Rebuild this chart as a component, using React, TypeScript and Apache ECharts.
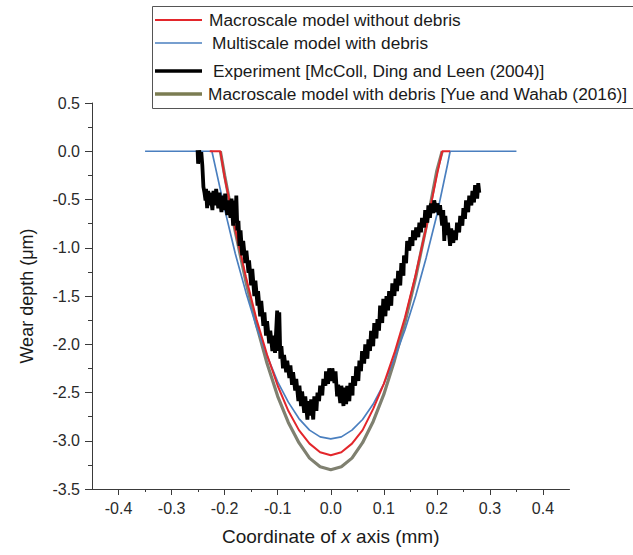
import React, { useEffect, useRef } from "react";
import * as echarts from "echarts";

const FONT = "'Liberation Sans', Arial, Helvetica, sans-serif";

const xMajorTicks = [-0.4, -0.3, -0.2, -0.1, 0, 0.1, 0.2, 0.3, 0.4];
const xMinorTicks = [-0.35, -0.25, -0.15, -0.05, 0.05, 0.15, 0.25, 0.35];

const legendNames = [
  "Macroscale model without debris",
  "Multiscale model with debris",
  "Experiment [McColl, Ding and Leen (2004)]",
  "Macroscale model with debris [Yue and Wahab (2016)]",
];

// Macroscale model without debris (red)
const redX = [-0.228, -0.208, -0.2, -0.18, -0.16, -0.14, -0.12, -0.1, -0.08, -0.06, -0.04, -0.02, 0, 0.02, 0.04, 0.06, 0.08, 0.1, 0.12, 0.14, 0.16, 0.18, 0.2, 0.21, 0.225];
const redY = [0, 0, -0.27, -0.81, -1.3, -1.74, -2.11, -2.43, -2.69, -2.89, -3.03, -3.12, -3.15, -3.12, -3.03, -2.89, -2.67, -2.41, -2.09, -1.72, -1.28, -0.79, -0.25, 0, 0];

// Multiscale model with debris (blue)
const blueX = [-0.35, -0.224, -0.22, -0.2, -0.18, -0.16, -0.14, -0.12, -0.1, -0.08, -0.06, -0.04, -0.02, 0, 0.02, 0.04, 0.06, 0.08, 0.1, 0.12, 0.14, 0.16, 0.18, 0.2, 0.22, 0.225, 0.35];
const blueY = [0, 0, -0.1, -0.6, -1.06, -1.46, -1.82, -2.12, -2.39, -2.6, -2.77, -2.89, -2.96, -2.98, -2.96, -2.89, -2.78, -2.62, -2.41, -2.15, -1.85, -1.5, -1.1, -0.66, -0.14, 0, 0];

// Macroscale model with debris [Yue and Wahab (2016)] (olive)
const greenX = [-0.208, -0.2, -0.18, -0.16, -0.14, -0.12, -0.1, -0.08, -0.06, -0.04, -0.02, 0, 0.02, 0.04, 0.06, 0.08, 0.1, 0.12, 0.14, 0.16, 0.18, 0.2, 0.21];
const greenY = [0, -0.25, -0.83, -1.35, -1.8, -2.2, -2.54, -2.81, -3.02, -3.18, -3.27, -3.3, -3.27, -3.18, -3.02, -2.8, -2.52, -2.17, -1.77, -1.31, -0.78, -0.2, 0];

// Experiment [McColl, Ding and Leen (2004)] (black, noisy profile)
const expX = [
  -0.251, -0.25, -0.248, -0.246, -0.244, -0.242, -0.24, -0.238, -0.236, -0.235, -0.233, -0.231, -0.229, -0.227,
  -0.223, -0.221, -0.218, -0.216, -0.212, -0.21, -0.206, -0.204, -0.201, -0.199, -0.195, -0.193, -0.189, -0.187,
  -0.184, -0.182, -0.18, -0.178, -0.176, -0.174, -0.172, -0.17, -0.167, -0.165, -0.161, -0.159, -0.155, -0.154,
  -0.15, -0.148, -0.144, -0.142, -0.138, -0.137, -0.133, -0.131, -0.127, -0.125, -0.122, -0.12, -0.116, -0.114,
  -0.11, -0.108, -0.105, -0.101, -0.099, -0.097, -0.095, -0.093, -0.09, -0.088, -0.084, -0.082, -0.078, -0.076,
  -0.073, -0.071, -0.067, -0.065, -0.061, -0.059, -0.056, -0.054, -0.05, -0.048, -0.044, -0.042, -0.039, -0.037,
  -0.033, -0.031, -0.027, -0.025, -0.022, -0.02, -0.016, -0.014, -0.01, -0.009, -0.005, -0.003, 0.001, 0.003,
  0.007, 0.009, 0.012, 0.014, 0.018, 0.02, 0.024, 0.025, 0.029, 0.031, 0.035, 0.037, 0.041, 0.042, 0.046, 0.048,
  0.052, 0.054, 0.057, 0.059, 0.063, 0.065, 0.069, 0.071, 0.074, 0.076, 0.08, 0.082, 0.086, 0.088, 0.091, 0.093,
  0.097, 0.099, 0.103, 0.105, 0.108, 0.11, 0.114, 0.116, 0.12, 0.122, 0.125, 0.127, 0.131, 0.133, 0.137, 0.138,
  0.142, 0.144, 0.148, 0.15, 0.154, 0.155, 0.159, 0.161, 0.165, 0.167, 0.17, 0.172, 0.176, 0.178, 0.182, 0.184,
  0.187, 0.189, 0.193, 0.195, 0.199, 0.201, 0.204, 0.206, 0.21, 0.212, 0.214, 0.216, 0.219, 0.221, 0.225, 0.227,
  0.231, 0.233, 0.236, 0.238, 0.242, 0.244, 0.248, 0.25, 0.253, 0.255, 0.259, 0.261, 0.265, 0.267, 0.27, 0.272,
  0.276, 0.278, 0.28,
];
const expY = [
  0.01, -0.13, 0.01, -0.09, -0.01, -0.15, -0.37, -0.43, -0.51, -0.39, -0.59, -0.41, -0.56, -0.43,
  -0.61, -0.41, -0.56, -0.39, -0.59, -0.43, -0.63, -0.46, -0.61, -0.44, -0.66, -0.51, -0.69, -0.49,
  -0.77, -0.51, -0.74, -0.46, -0.82, -0.72, -0.98, -0.82, -1.08, -0.93, -1.16, -1.03, -1.26, -1.13,
  -1.39, -1.22, -1.5, -1.34, -1.6, -1.45, -1.71, -1.55, -1.81, -1.67, -1.91, -1.76, -1.99, -1.86,
  -2.07, -1.91, -2.09, -1.65, -2.07, -1.67, -2.15, -2.02, -2.25, -2.11, -2.29, -2.17, -2.35, -2.22,
  -2.42, -2.29, -2.48, -2.36, -2.59, -2.43, -2.64, -2.49, -2.71, -2.54, -2.78, -2.59, -2.74, -2.57,
  -2.78, -2.54, -2.69, -2.5, -2.59, -2.43, -2.53, -2.36, -2.43, -2.28, -2.41, -2.25, -2.38, -2.25,
  -2.4, -2.28, -2.54, -2.42, -2.61, -2.43, -2.64, -2.45, -2.62, -2.43, -2.59, -2.4, -2.53, -2.33, -2.43, -2.23,
  -2.38, -2.17, -2.28, -2.07, -2.2, -2.0, -2.15, -1.95, -2.07, -1.86, -2.02, -1.78, -1.94, -1.74, -1.86, -1.6,
  -1.78, -1.53, -1.71, -1.5, -1.65, -1.45, -1.6, -1.37, -1.5, -1.32, -1.45, -1.24, -1.39, -1.16, -1.29, -1.08,
  -1.16, -0.93, -1.03, -0.89, -0.98, -0.82, -0.92, -0.79, -0.89, -0.74, -0.84, -0.69, -0.79, -0.61, -0.74, -0.56,
  -0.69, -0.54, -0.64, -0.51, -0.63, -0.54, -0.66, -0.56, -0.77, -0.61, -0.93, -0.67, -0.87, -0.74, -0.98, -0.8,
  -0.95, -0.82, -0.92, -0.74, -0.84, -0.67, -0.77, -0.59, -0.7, -0.51, -0.63, -0.46, -0.56, -0.41, -0.53, -0.35,
  -0.49, -0.33, -0.43,
];

const RED = "#e3262b";
const BLUE = "#4a7fbf";
const BLACK = "#000000";
const OLIVE = "#7b7c52";
const OLIVE_CURVE = "#7f8070";

const zip = (xs: number[], ys: number[]) => xs.map((x, i) => [x, ys[i]]);

export default function App() {
  const ref = useRef<HTMLDivElement>(null);
  useEffect(() => {
    if (!ref.current) return;
    const chart = echarts.init(ref.current, undefined, { renderer: "svg" });
    const axisColor = "#3a3a3a";
    const labelColor = "#2a2a2a";
    const legendRows = [20, 43, 71, 94];
    const legendTextX = [209, 212, 213, 208];
    const legendColors = [RED, BLUE, BLACK, OLIVE];
    const legendWidths = [2, 1.5, 3.5, 3.5];
    const legendEls: any[] = [
      {
        type: "rect",
        shape: { x: 152.5, y: 6.5, width: 520, height: 102 },
        style: { fill: "#fff", stroke: "#555", lineWidth: 1 },
        z: 10,
      },
    ];
    legendNames.forEach((name, i) => {
      legendEls.push({
        type: "line",
        shape: { x1: 155, y1: legendRows[i], x2: 202, y2: legendRows[i] },
        style: { stroke: legendColors[i], lineWidth: legendWidths[i] },
        z: 11,
      });
      legendEls.push({
        type: "text",
        x: legendTextX[i],
        y: legendRows[i],
        style: {
          text: name,
          fill: "#1a1a1a",
          font: `17.3px ${FONT}`,
          verticalAlign: "middle",
          align: "left",
        },
        z: 11,
      });
    });

    chart.setOption({
      animation: false,
      backgroundColor: "#fff",
      grid: { left: 92, right: 63.5, top: 103, bottom: 66, containLabel: false },
      xAxis: [
        {
          type: "value",
          min: -0.45,
          max: 0.45,
          position: "bottom",
          splitLine: { show: false },
          axisLine: { show: true, onZero: false, lineStyle: { color: axisColor, width: 1 } },
          axisTick: { show: true, customValues: xMajorTicks, length: 6, lineStyle: { color: axisColor } },
          axisLabel: {
            customValues: xMajorTicks,
            formatter: (v: number) => v.toFixed(1),
            color: labelColor,
            fontSize: 16,
            fontFamily: FONT,
            margin: 11,
          },
          name: "Coordinate of {i|x} axis (mm)",
          nameLocation: "middle",
          nameGap: 38,
          nameTextStyle: {
            color: "#1a1a1a",
            fontSize: 19,
            fontFamily: FONT,
            rich: { i: { fontStyle: "italic", fontSize: 19, fontFamily: FONT, color: "#1a1a1a" } },
          },
        },
        {
          type: "value",
          min: -0.45,
          max: 0.45,
          position: "bottom",
          splitLine: { show: false },
          axisLine: { show: false, onZero: false },
          axisTick: { show: true, customValues: xMinorTicks, length: 3, lineStyle: { color: axisColor } },
          axisLabel: { show: false },
        },
      ],
      yAxis: {
        type: "value",
        min: -3.5,
        max: 0.5,
        interval: 0.5,
        splitLine: { show: false },
        axisLine: { show: true, onZero: false, lineStyle: { color: axisColor, width: 1 } },
        axisTick: { show: true, length: 7, lineStyle: { color: axisColor } },
        minorTick: { show: true, splitNumber: 2, length: 4, lineStyle: { color: axisColor } },
        axisLabel: {
          formatter: (v: number) => v.toFixed(1),
          color: labelColor,
          fontSize: 16,
          fontFamily: FONT,
          margin: 12,
        },
        name: "Wear depth (μm)",
        nameLocation: "middle",
        nameRotate: 90,
        nameGap: 56,
        nameTextStyle: { color: "#1a1a1a", fontSize: 18, fontFamily: FONT },
      },
      series: [
        {
          name: legendNames[3],
          type: "line",
          data: zip(greenX, greenY),
          symbol: "none",
          lineStyle: { color: OLIVE_CURVE, width: 3.2 },
          z: 2,
        },
        {
          name: legendNames[1],
          type: "line",
          data: zip(blueX, blueY),
          symbol: "none",
          lineStyle: { color: BLUE, width: 1.7 },
          z: 3,
        },
        {
          name: legendNames[0],
          type: "line",
          data: zip(redX, redY),
          symbol: "none",
          lineStyle: { color: RED, width: 2 },
          z: 4,
        },
        {
          name: legendNames[2],
          type: "line",
          data: zip(expX, expY),
          symbol: "none",
          lineStyle: { color: BLACK, width: 3.8 },
          z: 5,
        },
      ],
      graphic: legendEls,
    });
    return () => chart.dispose();
  }, []);
  return (
    <div
      ref={ref}
      style={{ position: "absolute", left: 0, top: 0, width: 633, height: 555 }}
    />
  );
}
